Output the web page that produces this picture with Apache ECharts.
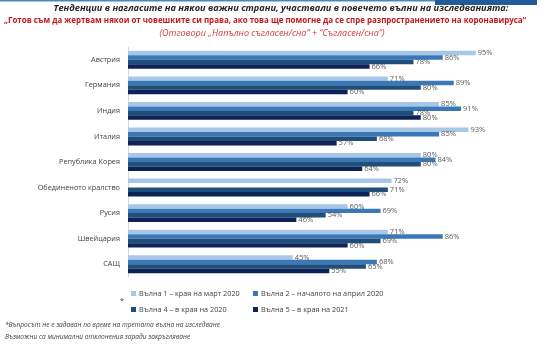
<!DOCTYPE html>
<html><head><meta charset="utf-8">
<script src="https://cdn.jsdelivr.net/npm/echarts@6/dist/echarts.min.js"></script>
<style>html,body{margin:0;padding:0;background:#fff}#c{width:559px;height:357px}</style>
</head><body><div id="c"></div>
<script>
const categories = ['Австрия','Германия','Индия','Италия','Република Корея','Обединеното кралство','Русия','Швейцария','САЩ'];
const wave1 = [95, 71, 85, 93, 80, 72, 60, 71, 45];
const wave2 = [86, 89, 91, 85, 84, null, 69, 86, 68];
const wave4 = [78, 80, 78, 68, 80, 71, 54, 69, 65];
const wave5 = [66, 60, 80, 57, 64, 66, 46, 60, 55];
const seriesNames = ['Вълна 1 – края на март 2020','Вълна 2 – началото на април 2020','Вълна 4 – в края на 2020','Вълна 5 – в края на 2021'];
const colors = ['#A7C7E7','#3B78B7','#1F4E7A','#0D2257'];
const titleLine1 = 'Тенденции в нагласите на някои важни страни, участвали в повечето вълни на изследванията:';
const titleLine2 = '„Готов съм да жертвам някои от човешките си права, ако това ще помогне да се спре разпространението на коронавируса“';
const titleLine3 = '(Отговори „Напълно съгласен/сна“ + “Съгласен/сна“)';
const note1 = '*Въпросът не е задаван по време на третата вълна на изследване';
const note2 = 'Възможни са минимални отклонения заради закръгляване';

const FONT = '"Open Sans", "Noto Sans", sans-serif';
const chart = echarts.init(document.getElementById('c'), null, {renderer:'canvas'});
const data = [wave1, wave2, wave4, wave5];
const series = data.map((d,i)=>({
  name: seriesNames[i], type:'bar', data:d,
  barGap:'0%', barCategoryGap:'30%',
  itemStyle:{color:colors[i]},
  label:{show:true, position:'right', distance:2, formatter:'{c}%', fontSize:7.5, color:'#595959', fontFamily:FONT},
  emphasis:{disabled:true}
}));
chart.setOption({
  animation:false,
  textStyle:{fontFamily:FONT},
  grid:{left:128, right:65, top:47, bottom:80, containLabel:false},
  xAxis:{type:'value', min:0, max:100, show:false},
  yAxis:{type:'category', data:categories, inverse:true,
    axisLine:{show:true, lineStyle:{color:'#d9d9d9'}}, axisTick:{show:false},
    axisLabel:{fontSize:7.3, color:'#404040', margin:8, fontFamily:FONT}},
  legend:[
    {data:[seriesNames[0], seriesNames[2]], orient:'vertical', left:126, top:285, itemWidth:5, itemHeight:5, itemGap:9,
     icon:'rect', textStyle:{fontSize:7.3, color:'#404040', padding:[0,0,0,-2]}, selectedMode:false},
    {data:[seriesNames[1], seriesNames[3]], orient:'vertical', left:248, top:285, itemWidth:5, itemHeight:5, itemGap:9,
     icon:'rect', textStyle:{fontSize:7.3, color:'#404040', padding:[0,0,0,-2]}, selectedMode:false}
  ],
  graphic:[
    {type:'rect', shape:{x:0,y:0,width:440,height:1.5}, style:{fill:'#4a86c5'}},
    {type:'rect', shape:{x:435,y:0,width:102,height:5}, style:{fill:'#1f5c99'}},
    {type:'text', x:281, y:8, style:{text:titleLine1, textAlign:'center', textVerticalAlign:'middle', font:'italic bold 9.2px '+FONT, fill:'#262626'}},
    {type:'text', x:265, y:20.5, style:{text:titleLine2, textAlign:'center', textVerticalAlign:'middle', font:'bold 7.95px '+FONT, fill:'#C0181B'}},
    {type:'text', x:272, y:33, style:{text:titleLine3, textAlign:'center', textVerticalAlign:'middle', font:'italic 9px '+FONT, fill:'#D23A3A'}},
    {type:'text', x:122, y:301, style:{text:'*', textAlign:'center', textVerticalAlign:'middle', font:'8px '+FONT, fill:'#404040'}},
    {type:'text', x:5, y:325, style:{text:note1, textAlign:'left', textVerticalAlign:'middle', font:'italic 6.6px '+FONT, fill:'#404040'}},
    {type:'text', x:5, y:337, style:{text:note2, textAlign:'left', textVerticalAlign:'middle', font:'italic 6.6px '+FONT, fill:'#404040'}}
  ],
  series
});
</script></body></html>
